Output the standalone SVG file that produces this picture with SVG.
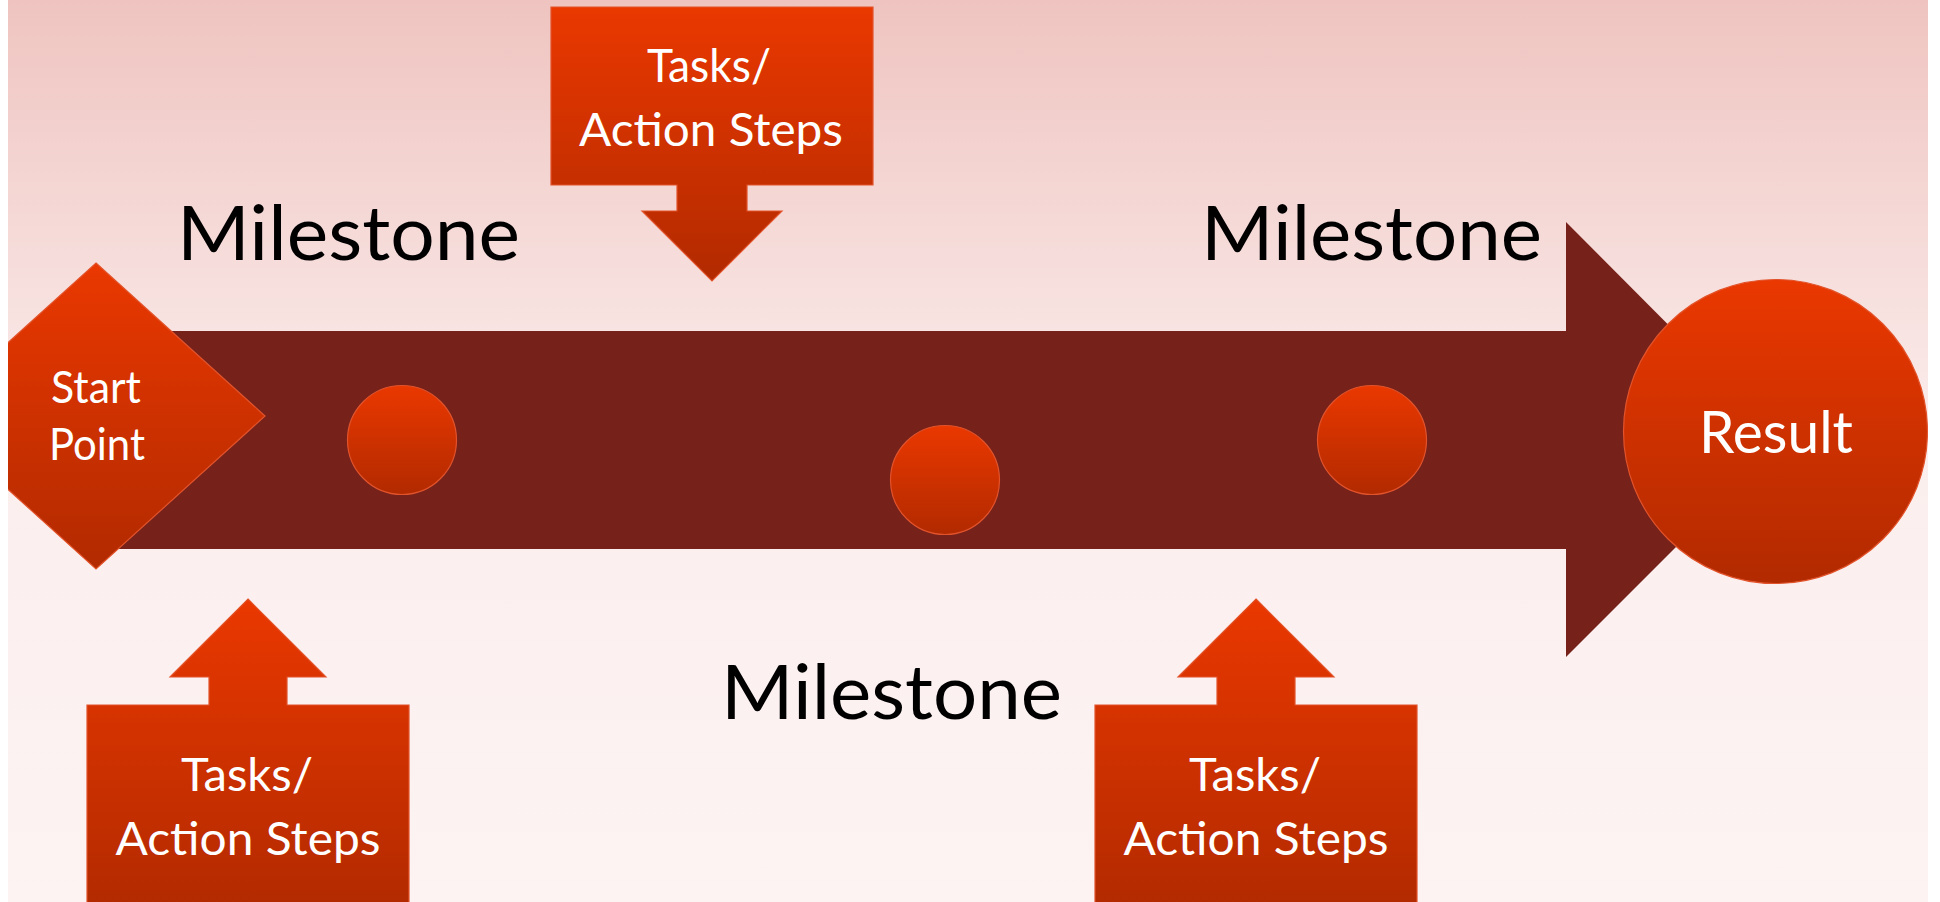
<svg xmlns="http://www.w3.org/2000/svg" width="1940" height="902" viewBox="0 0 1940 902">
<style>
.ms{font-family:Lato,"Open Sans","Liberation Sans",sans-serif;font-size:76px;fill:#000}
.wt{font-family:Lato,"Open Sans","Liberation Sans",sans-serif;fill:#fff;text-anchor:middle}
.tk{font-size:47px}
.or{fill:url(#og);stroke:#e2532b;stroke-width:1.2}
</style>
<defs>
<linearGradient id="bg" x1="0" y1="0" x2="0" y2="1">
<stop offset="0" stop-color="#efc4c0"/>
<stop offset="0.5" stop-color="#fbefee"/>
<stop offset="1" stop-color="#fcf3f2"/>
</linearGradient>
<linearGradient id="og" x1="0" y1="0" x2="0" y2="1">
<stop offset="0" stop-color="#ea3800"/>
<stop offset="1" stop-color="#b22a00"/>
</linearGradient>
<clipPath id="frame"><rect x="8" y="0" width="1920" height="902"/></clipPath>
</defs>
<rect x="0" y="0" width="1940" height="902" fill="#ffffff"/>
<rect id="background" x="8" y="0" width="1920" height="902" fill="url(#bg)"/>
<g clip-path="url(#frame)">
<g id="connectors">
<polygon id="timeline" points="96,331 1566,331 1566,222 1783,440 1566,657 1566,549 96,549" fill="#76211a"/>
</g>
<g id="start-point">
<polygon class="or" points="96,263 265,416 96,569 -73,416"/>
<text class="wt" x="96" y="403" font-size="44" textLength="90" lengthAdjust="spacingAndGlyphs">Start</text>
<text class="wt" x="97" y="460" font-size="44" textLength="96" lengthAdjust="spacingAndGlyphs">Point</text>
</g>
<g id="milestone-1"><circle class="or" cx="402" cy="440" r="54.5"/></g>
<g id="milestone-2"><circle class="or" cx="945" cy="480" r="54.5"/></g>
<g id="milestone-3"><circle class="or" cx="1372" cy="440" r="54.5"/></g>
<g id="result">
<circle class="or" cx="1775.5" cy="431.5" r="152"/>
<text class="wt" x="1776" y="453" font-size="58" textLength="154" lengthAdjust="spacingAndGlyphs">Result</text>
</g>
<g id="task-top">
<polygon class="or" points="551,7 873,7 873,185 747,185 747,211 782,211 712,281 642,211 677,211 677,185 551,185"/>
<text class="wt tk" x="709" y="82" textLength="124" lengthAdjust="spacingAndGlyphs">Tasks/</text>
<text class="wt tk" x="711" y="146" textLength="264" lengthAdjust="spacingAndGlyphs">Action Steps</text>
</g>
<g id="task-bottom-left">
<polygon class="or" points="248,599 326,677 287,677 287,705 409,705 409,910 87,910 87,705 209,705 209,677 170,677"/>
<text class="wt tk" x="247" y="791" textLength="132" lengthAdjust="spacingAndGlyphs">Tasks/</text>
<text class="wt tk" x="248" y="855" textLength="265" lengthAdjust="spacingAndGlyphs">Action Steps</text>
</g>
<g id="task-bottom-right">
<polygon class="or" points="1256,599 1334,677 1295,677 1295,705 1417,705 1417,910 1095,910 1095,705 1217,705 1217,677 1178,677"/>
<text class="wt tk" x="1255" y="791" textLength="132" lengthAdjust="spacingAndGlyphs">Tasks/</text>
<text class="wt tk" x="1256" y="855" textLength="265" lengthAdjust="spacingAndGlyphs">Action Steps</text>
</g>
<g id="labels">
<text class="ms" x="177" y="260" textLength="343" lengthAdjust="spacingAndGlyphs">Milestone</text>
<text class="ms" x="1201" y="260" textLength="341" lengthAdjust="spacingAndGlyphs">Milestone</text>
<text class="ms" x="721" y="719" textLength="341" lengthAdjust="spacingAndGlyphs">Milestone</text>
</g>
</g>
</svg>
